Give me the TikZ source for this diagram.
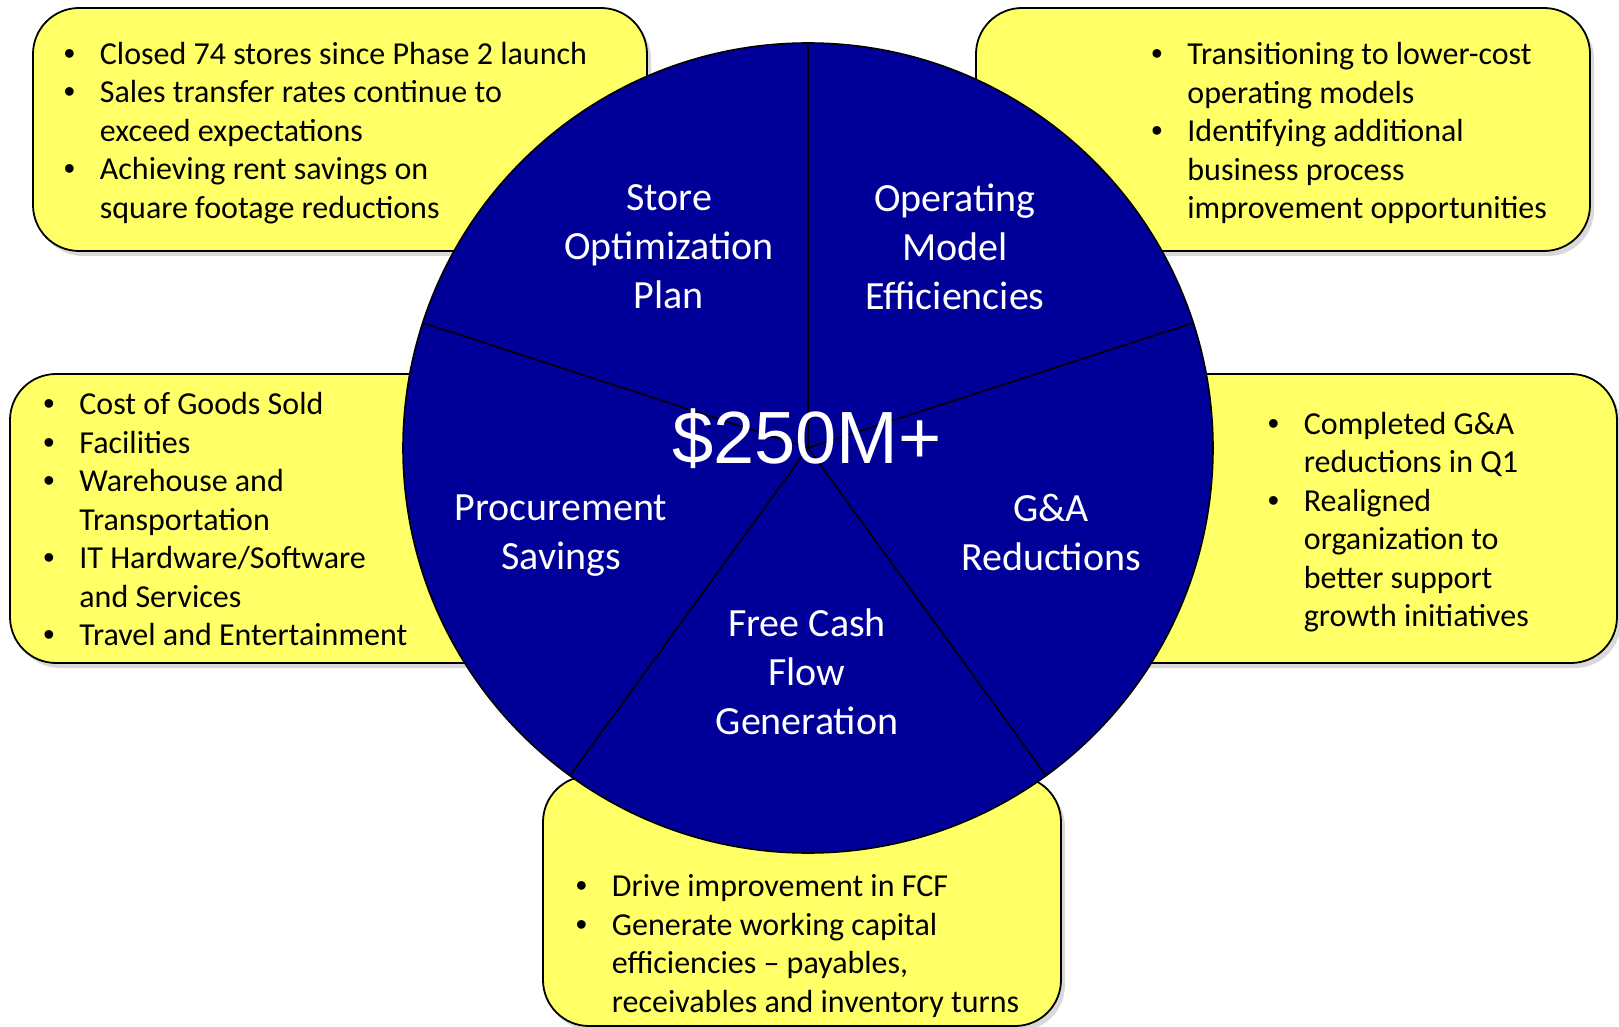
\documentclass[tikz,border=0pt]{standalone}
\usepackage{fontspec}
\setmainfont{Carlito}
\newfontfamily\arialfont{Liberation Sans}
\usetikzlibrary{shadows}
\definecolor{pieblue}{RGB}{0,0,153}
\definecolor{noteyellow}{RGB}{255,255,102}
\newcommand{\bul}{\makebox[18pt][l]{\arialfont\textbullet}}
\newcommand{\ind}{\hspace*{18pt}}
\def\R{202.5pt}

\begin{document}
\begin{tikzpicture}[x=0.5pt, y=-0.5pt,
    notebox/.style={draw=black, line width=0.9pt, fill=noteyellow, rounded corners=23pt,
      drop shadow={shadow xshift=2pt, shadow yshift=-2.5pt, opacity=0.3}},
    notetext/.style={anchor=west, align=left, inner sep=0pt, font=\fontsize{16}{19.25}\selectfont},
    slicetext/.style={align=center, text=white, inner sep=0pt, font=\fontsize{20}{24.5}\selectfont},
    divline/.style={line width=0.8pt}
  ]
  \useasboundingbox (0,0) rectangle (1619,1027);

  % note boxes behind the pie
  \draw[notebox] (33,8) rectangle (647,251);
  \draw[notebox] (976,8) rectangle (1590,251);
  \draw[notebox] (10,374) rectangle (620,663);
  \draw[notebox] (1000,374) rectangle (1617,663);
  \draw[notebox] (543,776) rectangle (1061,1026);

  \node[notetext] (storenote) at (63.5,133) {\bul Closed 74 stores since Phase 2 launch\\
    \bul Sales transfer rates continue to\\ \ind exceed expectations\\
    \bul Achieving rent savings on\\ \ind square footage reductions};
  \node[notetext] (opnote) at (1151,133) {\bul Transitioning to lower-cost\\ \ind operating models\\
    \bul Identifying additional\\ \ind business process\\ \ind improvement opportunities};
  \node[notetext] (procnote) at (43,519.5) {\bul Cost of Goods Sold\\ \bul Facilities\\
    \bul Warehouse and\\ \ind Transportation\\ \bul IT Hardware/Software\\ \ind and Services\\
    \bul Travel and Entertainment};
  \node[notetext] (gnanote) at (1267.5,522) {\bul Completed G\&A\\ \ind reductions in Q1\\
    \bul Realigned\\ \ind organization to\\ \ind better support\\ \ind growth initiatives};

  % pie
  \coordinate (c) at (808,448);
  \draw[line width=0.8pt, fill=pieblue] (c) circle[radius=\R];
  \foreach \a in {18,90,162,234,306}
    \draw[divline] (c) -- ++(\a:\R);

  \node[notetext] (fcfnote) at (575.5,946) {\bul Drive improvement in FCF\\
    \bul Generate working capital\\ \ind efficiencies -- payables,\\ \ind receivables and inventory turns};

  \node[slicetext] (store) at (669,247) {Store\\Optimization\\Plan};
  \node[slicetext] (opmodel) at (955,247) {Operating\\Model\\Efficiencies};
  \node[slicetext] (procure) at (561,536) {Procurement\\Savings};
  \node[slicetext] (gna) at (1051,532) {G\&A\\Reductions};
  \node[slicetext] (fcf) at (807,672) {Free Cash\\Flow\\Generation};
  \node[text=white, inner sep=0pt, font=\arialfont\fontsize{37}{44}\selectfont] (total) at (807,439) {\$250M+};
\end{tikzpicture}
\end{document}
